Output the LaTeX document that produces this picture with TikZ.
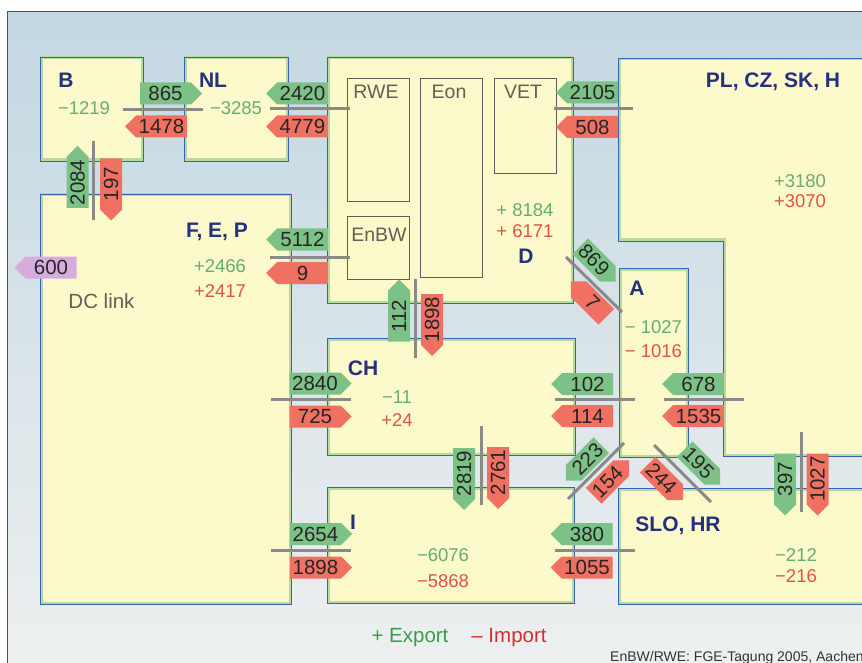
\documentclass[tikz,border=0pt]{standalone}
\usepackage{fontspec}
\setmainfont{Liberation Sans}
\usepackage{xcolor}
\usepackage{tikz}
\usetikzlibrary{shapes}

\definecolor{bgtop}{RGB}{195,215,226}
\definecolor{bgbot}{RGB}{238,240,240}
\definecolor{framegrey}{RGB}{80,80,80}
\definecolor{landfill}{RGB}{252,250,202}
\definecolor{landrim}{RGB}{182,218,162}
\definecolor{landedge}{RGB}{52,100,180}
\definecolor{expfill}{RGB}{124,194,134}
\definecolor{impfill}{RGB}{240,112,98}
\definecolor{dcfill}{RGB}{214,172,222}
\definecolor{bordgrey}{RGB}{138,138,138}
\definecolor{navy}{RGB}{38,48,128}
\definecolor{expnum}{RGB}{104,172,112}
\definecolor{impnum}{RGB}{226,82,72}
\definecolor{firmgrey}{RGB}{96,96,88}
\definecolor{leggreen}{RGB}{58,156,76}
\definecolor{legred}{RGB}{208,48,48}

\begin{document}
\begin{tikzpicture}[
  x=1pt, y=-1pt,
  land/.style={fill=landfill, draw=landedge, line width=0.8pt,
    path picture={\draw[landrim, line width=5pt] (path picture bounding box.south west) rectangle (path picture bounding box.north east);}},
  pland/.style={fill=landfill, draw=landedge, line width=0.8pt,
    path picture={\draw[landrim, line width=5pt] (618,58) -- (875,58) -- (875,456) -- (723,456) -- (723,241) -- (618,241) -- cycle;}},
  firm/.style={draw=firmgrey, line width=0.8pt},
  firmtxt/.style={anchor=base, text=firmgrey, font=\fontsize{19.5}{22}\selectfont},
  bord/.style={draw=bordgrey, line width=3pt},
  tag/.style={signal, signal pointer angle=90, minimum width=62, minimum height=22, inner sep=1pt, text=black!85, font=\fontsize{20.5}{22}\selectfont},
  exp/.style={tag, fill=expfill},
  imp/.style={tag, fill=impfill},
  dc/.style={tag, fill=dcfill},
  diag/.style={minimum width=50},
  cname/.style={anchor=base, text=navy, font=\fontsize{21}{24}\selectfont\bfseries},
  gnum/.style={anchor=base, text=expnum, font=\fontsize{18.5}{20}\selectfont},
  rnum/.style={anchor=base, text=impnum, font=\fontsize{18.5}{20}\selectfont}
]
  \useasboundingbox (0,0) rectangle (862,663);
  \shade[top color=bgtop, bottom color=bgbot] (7,12) rectangle (870,670);
  \draw[framegrey, line width=1pt] (7,670) -- (7,12) -- (870,12);

  \draw[land] (40,57) rectangle (143,161);
  \draw[land] (184,57) rectangle (288,161);
  \draw[land] (327,57) rectangle (573,303);
  \draw[pland] (618,58) -- (875,58) -- (875,456) -- (723,456) -- (723,241) -- (618,241) -- cycle;
  \draw[land] (619,268) rectangle (688,457);
  \draw[land] (40,194) rectangle (291,604);
  \draw[land] (327,338) rectangle (575,455);
  \draw[land] (327,487) rectangle (574,603);
  \draw[land] (618,488) rectangle (875,604);

  \draw[firm] (347,78) rectangle (409,201);
  \draw[firm] (420,78) rectangle (482,277);
  \draw[firm] (494,78) rectangle (556,173);
  \draw[firm] (347,216) rectangle (409,279);
  \node[firmtxt] (fRWE) at (376,99) {RWE};
  \node[firmtxt] (fEon) at (449,99) {Eon};
  \node[firmtxt] (fVET) at (523,99) {VET};
  \node[firmtxt] (fEnBW) at (379,242) {EnBW};

  \draw[bord] (123,110) -- (203,110);
  \draw[bord] (270,109) -- (350,109);
  \draw[bord] (554,109) -- (633,109);
  \draw[bord] (270,257) -- (350,257);
  \draw[bord] (271,399) -- (351,399);
  \draw[bord] (555,399) -- (635,399);
  \draw[bord] (664,399) -- (744,399);
  \draw[bord] (271,550) -- (351,550);
  \draw[bord] (555,550) -- (635,550);
  \draw[bord] (93,141) -- (93,220);
  \draw[bord] (415,279) -- (415,358);
  \draw[bord] (481,426) -- (481,505);
  \draw[bord] (801,432) -- (801,512);
  \draw[bord] (566,257) -- (622,312);
  \draw[bord] (568,499) -- (624,443);
  \draw[bord] (654,445) -- (711,502);

  \node[exp, signal to=east] (e1) at (165.5,93.5) {865};
  \node[imp, signal to=west] (i1) at (161.5,126.5) {1478};
  \node[exp, signal to=west] (e2) at (302.5,93.5) {2420};
  \node[imp, signal to=west] (i2) at (302.5,126.5) {4779};
  \node[exp, signal to=west] (e3) at (592.5,92.5) {2105};
  \node[imp, signal to=west] (i3) at (592.5,127) {508};
  \node[exp, signal to=west] (e4) at (302.5,239.5) {5112};
  \node[imp, signal to=west] (i4) at (302.5,273) {9};
  \node[dc, signal to=west] (dc1) at (51,267.5) {600};
  \node[exp, signal to=east, rotate=90] (e5) at (77.5,182.5) {2084};
  \node[imp, signal to=west, rotate=90] (i5) at (111,184) {197};
  \node[exp, signal to=east, rotate=90] (e6) at (399,316) {112};
  \node[imp, signal to=west, rotate=90] (i6) at (432,319.5) {1898};
  \node[exp, signal to=east] (e7) at (315,383.5) {2840};
  \node[imp, signal to=east] (i7) at (315,416.5) {725};
  \node[exp, signal to=west] (e8) at (587.5,384) {102};
  \node[imp, signal to=west] (i8) at (587.5,416) {114};
  \node[exp, signal to=west] (e9) at (698.5,384) {678};
  \node[imp, signal to=west] (i9) at (698.5,416) {1535};
  \node[exp, signal to=west, rotate=90] (e10) at (464,473.5) {2819};
  \node[imp, signal to=west, rotate=90] (i10) at (498,472.5) {2761};
  \node[exp, signal to=east] (e11) at (315.5,534) {2654};
  \node[imp, signal to=east] (i11) at (315.5,567.5) {1898};
  \node[exp, signal to=west] (e12) at (587,534) {380};
  \node[imp, signal to=west] (i12) at (587,567.5) {1055};
  \node[exp, diag, signal to=east, rotate=-45] (e13) at (594,260) {869};
  \node[imp, diag, signal to=west, rotate=-45] (i13) at (592.5,303) {7};
  \node[exp, diag, signal to=west, rotate=45] (e14) at (587.5,459) {223};
  \node[imp, diag, signal to=east, rotate=45] (i14) at (607.5,482) {154};
  \node[exp, diag, signal to=east, rotate=-45] (e15) at (698.5,463) {195};
  \node[imp, diag, signal to=east, rotate=-45] (i15) at (661.5,478.5) {244};
  \node[exp, signal to=west, rotate=90] (e16) at (785,479) {397};
  \node[imp, signal to=west, rotate=90] (i16) at (817.5,479) {1027};

  \node[cname] (cB) at (66,88) {B};
  \node[cname] (cNL) at (213,88) {NL};
  \node[cname] (cPL) at (773,88) {PL, CZ, SK, H};
  \node[cname] (cD) at (526,263) {D};
  \node[cname] (cF) at (217,237) {F, E, P};
  \node[cname] (cA) at (637,295) {A};
  \node[cname] (cCH) at (363,375) {CH};
  \node[cname] (cI) at (353,529) {I};
  \node[cname] (cSLO) at (678,531) {SLO, HR};

  \node[gnum] (gB) at (84,115) {−1219};
  \node[gnum] (gNL) at (236,115) {−3285};
  \node[gnum] (gD) at (525,217) {+ 8184};
  \node[rnum] (rD) at (525,237) {+ 6171};
  \node[gnum] (gPL) at (800,188) {+3180};
  \node[rnum] (rPL) at (800,208) {+3070};
  \node[gnum] (gF) at (220,272) {+2466};
  \node[rnum] (rF) at (220,297) {+2417};
  \node[gnum] (gA) at (653.5,333) {− 1027};
  \node[rnum] (rA) at (653.5,357) {− 1016};
  \node[gnum] (gCH) at (397,403) {−11};
  \node[rnum] (rCH) at (397,426) {+24};
  \node[gnum] (gI) at (443,561) {−6076};
  \node[rnum] (rI) at (443,587) {−5868};
  \node[gnum] (gSLO) at (796,561) {−212};
  \node[rnum] (rSLO) at (796,582) {−216};

  \node[anchor=base, text=firmgrey, font=\fontsize{20.5}{22}\selectfont] (dcl) at (101.5,308) {DC link};
  \node[anchor=base, text=leggreen, font=\fontsize{20.5}{22}\selectfont] (lgE) at (410,642) {+ Export};
  \node[anchor=base, text=legred, font=\fontsize{20.5}{22}\selectfont] (lgI) at (509,642) {– Import};
  \node[anchor=base west, inner sep=0pt, text=black!80, font=\fontsize{14}{16}\selectfont] (src) at (610,661) {EnBW/RWE: FGE-Tagung 2005, Aachen};
\end{tikzpicture}
\end{document}
